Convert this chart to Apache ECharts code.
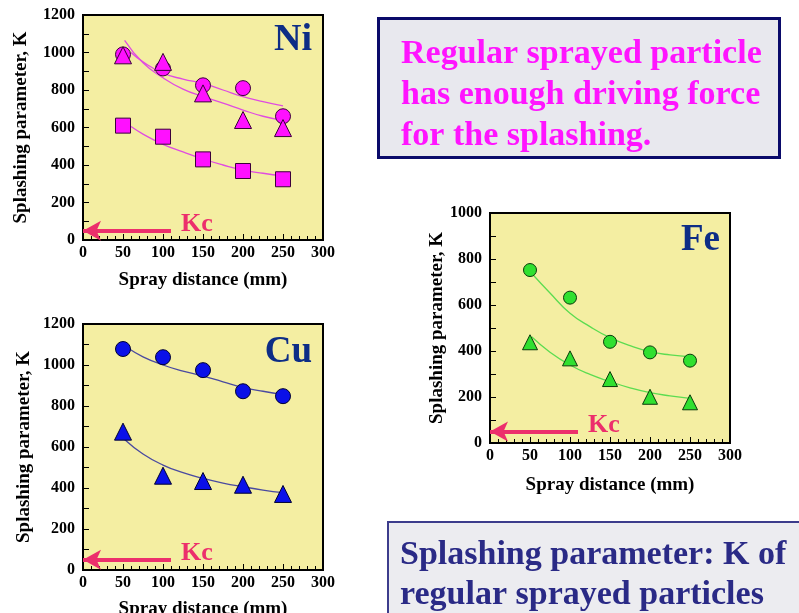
<!DOCTYPE html>
<html>
<head>
<meta charset="utf-8">
<script src="https://cdn.jsdelivr.net/npm/echarts@6/dist/echarts.min.js"></script>
<style>
  html, body { margin: 0; padding: 0; background: #ffffff; }
  #chart { width: 799px; height: 613px; }
</style>
</head>
<body>
<div id="chart"></div>
<script>
// Spray distance (mm) of the measured points
const distance = [50, 100, 150, 200, 250];

// Ni: splashing parameter K for three particle sets
const niCircle   = [990, 915, 825, 810, 660];
const niTriangle = [985, 950, 782, 640, 597];
const niSquare   = [610, 551, 430, 368, 324];

// Ni fitted trend curves
const niCircleFitX   = [60, 75, 100, 125, 150, 175, 200, 225, 250];
const niCircleFitY   = [1000, 950, 890, 858, 835, 800, 765, 738, 715];
const niTriangleFitX = [52, 75, 100, 125, 150, 175, 200, 225, 250];
const niTriangleFitY = [1065, 945, 865, 805, 765, 730, 693, 660, 638];
const niSquareFitX   = [60, 75, 100, 125, 150, 175, 200, 225, 250];
const niSquareFitY   = [605, 565, 510, 470, 432, 400, 373, 356, 342];

// Cu
const cuCircle   = [1078, 1038, 975, 872, 848];
const cuTriangle = [675, 460, 434, 416, 371];
const cuCircleFitX   = [55, 75, 100, 125, 150, 175, 200, 225, 250];
const cuCircleFitY   = [1085, 1040, 1000, 970, 946, 918, 891, 872, 857];
const cuTriangleFitX = [52, 75, 100, 125, 150, 175, 200, 225, 250];
const cuTriangleFitY = [637, 566, 512, 475, 447, 424, 406, 390, 377];

// Fe
const feCircle   = [752, 632, 440, 394, 358];
const feTriangle = [438, 368, 278, 201, 177];
const feCircleFitX   = [52, 75, 100, 125, 150, 175, 200, 225, 250];
const feCircleFitY   = [738, 652, 564, 506, 458, 423, 397, 383, 375];
const feTriangleFitX = [52, 75, 100, 125, 150, 175, 200, 225, 250];
const feTriangleFitY = [462, 395, 339, 298, 267, 240, 219, 205, 194];

// Critical splashing parameter Kc and the reach of its arrow
const kcValue = 50;
const kcArrowFrom = 110;

const xAxisName = 'Spray distance (mm)';
const yAxisName = 'Splashing parameter, K';

const SERIF = '"Liberation Serif", "DejaVu Serif", serif';
const PLOT_BG = '#f4eea2';
const KC_COLOR = '#ec2f6c';
const TITLE_COLOR = '#0d2d86';

const pairs = (xs, ys) => xs.map((x, i) => [x, ys[i]]);

const panels = [
  { name: 'Ni', grid: { left: 83, top: 15, width: 240, height: 225 }, yMax: 1200,
    xGap: 31, yGap: 52, markerColor: '#ff10ff', markerBorder: '#3a003a', lineColor: '#e04ce0',
    sets: [
      { symbol: 'circle',   size: 15, values: niCircle,   fitX: niCircleFitX,   fitY: niCircleFitY },
      { symbol: 'triangle', size: 17, values: niTriangle, fitX: niTriangleFitX, fitY: niTriangleFitY },
      { symbol: 'rect',     size: 15, values: niSquare,   fitX: niSquareFitX,   fitY: niSquareFitY }
    ] },
  { name: 'Cu', grid: { left: 83, top: 324, width: 240, height: 246 }, yMax: 1200,
    xGap: 30, yGap: 49, markerColor: '#0a10e8', markerBorder: '#000033', lineColor: '#4a4aa0',
    sets: [
      { symbol: 'circle',   size: 15, values: cuCircle,   fitX: cuCircleFitX,   fitY: cuCircleFitY },
      { symbol: 'triangle', size: 17, values: cuTriangle, fitX: cuTriangleFitX, fitY: cuTriangleFitY }
    ] },
  { name: 'Fe', grid: { left: 490, top: 213, width: 240, height: 230 }, yMax: 1000,
    xGap: 33, yGap: 39, markerColor: '#30e030', markerBorder: '#0a3a0a', lineColor: '#5cdc50',
    sets: [
      { symbol: 'circle',   size: 13, values: feCircle,   fitX: feCircleFitX,   fitY: feCircleFitY },
      { symbol: 'triangle', size: 15, values: feTriangle, fitX: feTriangleFitX, fitY: feTriangleFitY }
    ] }
];

const tickLabel = { color: '#000', fontFamily: SERIF, fontWeight: 'bold', fontSize: 16, formatter: v => String(v) };
const nameStyle = { color: '#000', fontFamily: SERIF, fontWeight: 'bold', fontSize: 19 };

const grids = [], xAxes = [], yAxes = [], series = [], graphics = [];

panels.forEach((p, i) => {
  grids.push(Object.assign({
    show: true, backgroundColor: PLOT_BG, borderColor: '#000', borderWidth: 2,
    containLabel: false, outerBoundsMode: 'none'
  }, p.grid));

  xAxes.push({
    type: 'value', gridIndex: i, min: 0, max: 300, interval: 50,
    name: xAxisName, nameLocation: 'middle', nameGap: p.xGap, nameTextStyle: nameStyle,
    axisLine: { show: true, lineStyle: { color: '#000', width: 2 } },
    axisTick: { show: true, inside: true, length: 6, lineStyle: { color: '#000', width: 1 } },
    minorTick: { show: true, splitNumber: 5, length: 4, lineStyle: { color: '#000', width: 1 } },
    axisLabel: Object.assign({ margin: 5 }, tickLabel),
    splitLine: { show: false }
  });

  yAxes.push({
    type: 'value', gridIndex: i, min: 0, max: p.yMax, interval: 200,
    name: yAxisName, nameLocation: 'middle', nameGap: p.yGap, nameTextStyle: nameStyle,
    axisLine: { show: true, lineStyle: { color: '#000', width: 2 } },
    axisTick: { show: true, inside: true, length: 6, lineStyle: { color: '#000', width: 1 } },
    minorTick: { show: true, splitNumber: 2, length: 6, lineStyle: { color: '#000', width: 1 } },
    axisLabel: Object.assign({ margin: 8 }, tickLabel),
    splitLine: { show: false }
  });

  // fitted trend curves
  p.sets.forEach(s => {
    series.push({
      type: 'line', xAxisIndex: i, yAxisIndex: i, smooth: true, showSymbol: false,
      silent: true, z: 2,
      lineStyle: { color: p.lineColor, width: 1.3 },
      data: pairs(s.fitX, s.fitY)
    });
  });

  // measured points
  p.sets.forEach(s => {
    series.push({
      type: 'scatter', xAxisIndex: i, yAxisIndex: i, z: 3,
      symbol: s.symbol, symbolSize: s.size,
      itemStyle: { color: p.markerColor, borderColor: p.markerBorder, borderWidth: 1, opacity: 1 },
      data: pairs(distance, s.values)
    });
  });

  // Kc arrow
  series.push({
    type: 'line', xAxisIndex: i, yAxisIndex: i, data: [], z: 4,
    markLine: {
      silent: true, animation: false,
      symbol: ['none', 'arrow'], symbolSize: [15, 18],
      lineStyle: { color: KC_COLOR, width: 4, type: 'solid' },
      label: {
        show: true, position: 'start', formatter: 'Kc', distance: 10, offset: [0, -6],
        color: KC_COLOR, fontFamily: SERIF, fontWeight: 'bold', fontSize: 26
      },
      data: [[{ coord: [kcArrowFrom, kcValue] }, { coord: [0, kcValue] }]]
    }
  });
});

// metal labels in the plot corners
graphics.push(
  { type: 'text', x: 312, y: 40, style: { text: 'Ni', font: 'bold 38px ' + SERIF, fill: TITLE_COLOR, align: 'right', verticalAlign: 'middle' } },
  { type: 'text', x: 312, y: 352, style: { text: 'Cu', font: 'bold 37px ' + SERIF, fill: TITLE_COLOR, align: 'right', verticalAlign: 'middle' } },
  { type: 'text', x: 720, y: 240, style: { text: 'Fe', font: 'bold 37px ' + SERIF, fill: TITLE_COLOR, align: 'right', verticalAlign: 'middle' } }
);

// note boxes
graphics.push(
  { type: 'rect', shape: { x: 378.5, y: 18.5, width: 401, height: 139 },
    style: { fill: '#e8e8ee', stroke: '#0a0a6a', lineWidth: 3 } },
  { type: 'text', x: 401, y: 34,
    style: { text: 'Regular sprayed particle\nhas enough driving force\nfor the splashing.',
             font: 'bold 34px ' + SERIF, fill: '#ff14ff', lineHeight: 41, align: 'left', verticalAlign: 'top' } },
  { type: 'rect', shape: { x: 388, y: 522, width: 430, height: 120 },
    style: { fill: '#ececf0', stroke: '#3c3c8c', lineWidth: 2 } },
  { type: 'text', x: 400, y: 535,
    style: { text: 'Splashing parameter: K of\nregular sprayed particles',
             font: 'bold 34px ' + SERIF, fill: '#2a2a86', lineHeight: 40, align: 'left', verticalAlign: 'top' } }
);

const chart = echarts.init(document.getElementById('chart'), null, { renderer: 'canvas' });
chart.setOption({
  animation: false,
  backgroundColor: '#ffffff',
  grid: grids,
  xAxis: xAxes,
  yAxis: yAxes,
  series: series,
  graphic: graphics
});
</script>
</body>
</html>
